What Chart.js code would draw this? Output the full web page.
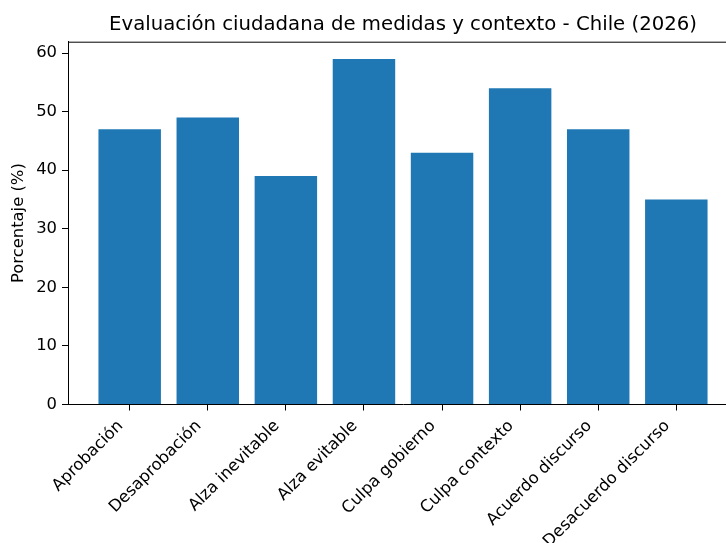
<!DOCTYPE html>
<html>
<head>
<meta charset="utf-8">
<script src="https://cdn.jsdelivr.net/npm/chart.js@4"></script>
<style>
  html, body { margin: 0; padding: 0; background: #fff; overflow: hidden; }
</style>
</head>
<body>
<canvas id="chart" width="738" height="543"></canvas>
<script>
const chartTitle = 'Evaluación ciudadana de medidas y contexto - Chile (2026)'
const yLabel = 'Porcentaje (%)'

const categories = ['Aprobación', 'Desaprobación', 'Alza inevitable', 'Alza evitable',
    'Culpa gobierno', 'Culpa contexto', 'Acuerdo discurso', 'Desacuerdo discurso']
const values = [47, 49, 39, 59, 43, 54, 47, 35]
const yTicks = [0, 10, 20, 30, 40, 50, 60]

const font = 'DejaVu Sans'

// matplotlib style: title over the axes, and a box round the plot area
const framePlugin = {
    id: 'frame',
    afterDraw(chart) {
        const { ctx, chartArea } = chart
        ctx.save()
        ctx.strokeStyle = '#000'
        ctx.lineWidth = 1
        ctx.beginPath()
        ctx.moveTo(chartArea.left, chartArea.top + 0.5)
        ctx.lineTo(chartArea.right, chartArea.top + 0.5)
        ctx.lineTo(chartArea.right, chartArea.bottom)
        ctx.stroke()
        ctx.fillStyle = '#000'
        ctx.font = '19.7px "' + font + '"'
        ctx.textAlign = 'center'
        ctx.textBaseline = 'alphabetic'
        ctx.fillText(chartTitle, (chartArea.left + chartArea.right) / 2, 30)
        ctx.restore()
    }
}

const ctx = document.getElementById('chart')

var myChart = new Chart(ctx, {
    type: 'bar',
    data: {
        datasets: [{
            data: values.map((v, i) => ({ x: i, y: v })),
            backgroundColor: '#1f77b4',
            borderWidth: 0,
            barPercentage: 0.8,
            categoryPercentage: 1.0
        }]
    },
    options: {
        responsive: false,
        animation: false,
        layout: { padding: { top: 41.7, left: 0, right: 0, bottom: 0 } },
        plugins: {
            legend: { display: false },
            title: { display: false },
            tooltip: { enabled: false }
        },
        scales: {
            x: {
                type: 'linear',
                offset: false,
                min: -0.79,
                max: 7.79,
                afterBuildTicks: (axis) => {
                    axis.ticks = categories.map((c, i) => ({ value: i }))
                },
                afterFit: (axis) => { axis.height = 543 - 404.5 },
                grid: {
                    offset: false,
                    drawOnChartArea: false,
                    drawTicks: true,
                    tickLength: 6,
                    color: '#000'
                },
                border: { display: true, color: '#000', width: 1 },
                ticks: {
                    autoSkip: false,
                    maxRotation: 45,
                    minRotation: 45,
                    padding: 6,
                    labelOffset: -9,
                    color: '#000',
                    font: { family: font, size: 16.4 },
                    callback: (value) => categories[value]
                }
            },
            y: {
                min: 0,
                max: 61.95,
                afterBuildTicks: (axis) => {
                    axis.ticks = yTicks.map(v => ({ value: v }))
                },
                afterFit: (axis) => { axis.width = 68 },
                grid: {
                    drawOnChartArea: false,
                    drawTicks: true,
                    tickLength: 6,
                    color: '#000'
                },
                border: { display: true, color: '#000', width: 1 },
                ticks: {
                    padding: 5,
                    color: '#000',
                    font: { family: font, size: 16.4 }
                },
                title: {
                    display: true,
                    text: yLabel,
                    color: '#000',
                    font: { family: font, size: 16.4 },
                    padding: { top: 9, bottom: 0 }
                }
            }
        }
    },
    plugins: [framePlugin]
});
</script>
</body>
</html>
